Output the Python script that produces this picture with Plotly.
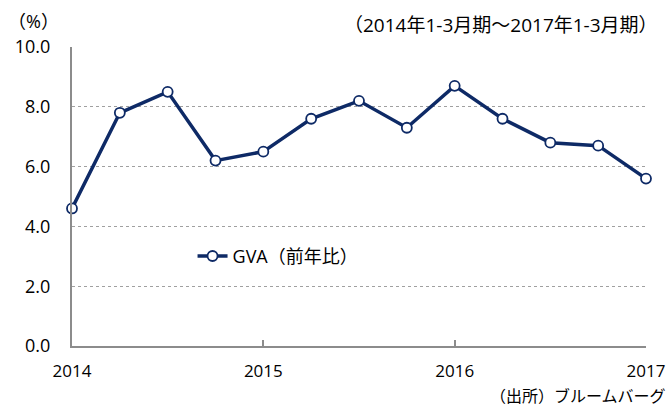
import plotly.graph_objects as go

quarters = list(range(13))
gva = [4.6, 7.8, 8.5, 6.2, 6.5, 7.6, 8.2, 7.3, 8.7, 7.6, 6.8, 6.7, 5.6]
year_ticks = [0, 4, 8, 12]
year_labels = ["2014", "2015", "2016", "2017"]
y_ticks = [0, 2, 4, 6, 8, 10]

FONT = "Open Sans, Noto Sans CJK JP, sans-serif"
NAVY = "#0E2A66"

fig = go.Figure()
fig.add_trace(go.Scatter(
    x=quarters, y=gva, mode="lines+markers", name="GVA（前年比）",
    line=dict(color=NAVY, width=3.5),
    marker=dict(size=10, color="white", line=dict(color=NAVY, width=1.8)),
    cliponaxis=False,
))

fig.update_layout(
    width=669, height=408,
    margin=dict(l=72, r=23, t=47, b=62, autoexpand=False),
    paper_bgcolor="white", plot_bgcolor="white",
    font=dict(family=FONT, size=17, color="black"),
    showlegend=True,
    legend=dict(x=0.21, y=0.30, xanchor="left", yanchor="middle",
                bgcolor="rgba(0,0,0,0)", font=dict(size=18)),
    xaxis=dict(range=[0, 12], tickvals=year_ticks, ticktext=year_labels,
               automargin=False,
               showgrid=False, zeroline=False, showline=True,
               linecolor="#8c8c8c", linewidth=2,
               ticks="inside", ticklen=6, tickcolor="#8c8c8c", tickwidth=1.5,
               ticklabelstandoff=9, tickfont=dict(size=17)),
    yaxis=dict(range=[0, 10], tickvals=y_ticks, tickformat=".1f",
               automargin=False,
               showgrid=True, gridcolor="#a0a0a0", griddash="dot", gridwidth=1,
               zeroline=False, showline=True, linecolor="#8c8c8c", linewidth=2,
               ticks="", ticklabelstandoff=16, tickfont=dict(size=18)),
    annotations=[
        dict(text="（%）", xref="paper", yref="paper", x=-0.115, y=1.0, yshift=26,
             xanchor="left", yanchor="middle", showarrow=False, font=dict(size=18)),
        dict(text="（2014年1-3月期～2017年1-3月期）", xref="paper", yref="paper",
             x=1.025, y=1.0, yshift=22, xanchor="right", yanchor="middle",
             showarrow=False, font=dict(size=19)),
        dict(text="（出所）ブルームバーグ", xref="paper", yref="paper",
             x=1.038, y=0.0, yshift=-50, xanchor="right", yanchor="middle",
             showarrow=False, font=dict(size=16)),
    ],
)

fig.write_html("out.html", config={"displayModeBar": False},
               post_script="document.body.style.margin='0';document.body.style.overflow='hidden';")
